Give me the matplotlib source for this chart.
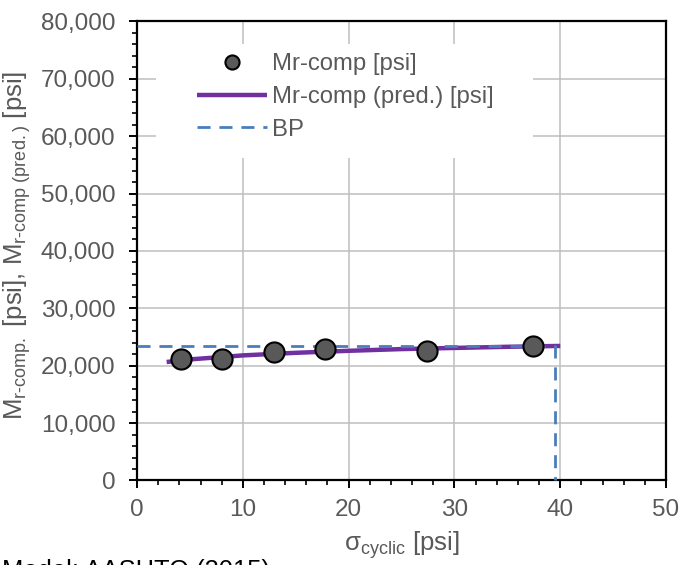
import matplotlib
matplotlib.use("Agg")
import matplotlib.pyplot as plt
from matplotlib.ticker import MultipleLocator, FuncFormatter
from matplotlib.patches import Rectangle

plt.rcParams['font.family'] = ['Liberation Sans', 'DejaVu Sans']
plt.rcParams['mathtext.fontset'] = 'custom'
plt.rcParams['mathtext.rm'] = 'Liberation Sans'
plt.rcParams['mathtext.it'] = 'Liberation Sans:italic'
plt.rcParams['mathtext.default'] = 'regular'

# data
sigma_meas = [4.15, 8.0, 12.9, 17.8, 27.4, 37.45]
mr_meas = [21200, 21150, 22400, 22850, 22550, 23500]
sigma_pred = [2.8, 5, 10, 15, 20, 25, 30, 35, 40]
mr_pred = [20650, 21100, 21800, 22250, 22600, 22900, 23100, 23300, 23450]
bp_sigma = 39.5
bp_mr = 23400

gray = '#595959'
fig = plt.figure(figsize=(6.8, 5.65), dpi=100)
ax = fig.add_axes([0.2015, 0.1496, 0.778, 0.8124])

ax.plot(sigma_pred, mr_pred, color='#7030A0', lw=3.2, solid_capstyle='butt',
        zorder=3, label='Mr-comp (pred.) [psi]')
ax.plot([0, bp_sigma, bp_sigma], [bp_mr, bp_mr, 0], color='#4A7EBB', lw=2.0,
        dashes=(4.7, 3.2), zorder=4, label='BP', clip_on=False)
ax.plot(sigma_meas, mr_meas, 'o', ms=14.5, mfc=gray, mec='black', mew=1.5,
        zorder=5, label='Mr-comp [psi]', linestyle='none')

ax.set_xlim(0, 50)
ax.set_ylim(0, 80000)
ax.xaxis.set_major_locator(MultipleLocator(10))
ax.xaxis.set_minor_locator(MultipleLocator(2))
ax.yaxis.set_major_locator(MultipleLocator(10000))
ax.yaxis.set_minor_locator(MultipleLocator(2000))
ax.yaxis.set_major_formatter(FuncFormatter(lambda v, p: f'{int(v):,}'))

ax.grid(True, which='major', color='#BFBFBF', lw=1.1, zorder=0)
ax.set_axisbelow(True)
for s in ax.spines.values():
    s.set_color('black')
    s.set_linewidth(1.6)
ax.tick_params(which='major', direction='out', length=5.5, width=1.4, color='black',
               labelsize=17.5, labelcolor=gray)
ax.tick_params(which='minor', direction='out', length=3.5, width=1.2, color='black')
ax.tick_params(axis='y', pad=10)
ax.tick_params(axis='x', pad=8)

ax.set_xlabel('σ$_{\\mathregular{cyclic}}$ [psi]', fontsize=18.5, color=gray, labelpad=6)
ax.set_ylabel('M$_{\\mathregular{r\u2010comp.}}$ [psi], M$_{\\mathregular{r\u2010comp\\ (pred.)}}$ [psi]',
              fontsize=18.5, color=gray)
ax.yaxis.set_label_coords(-0.196, 0.512)

# white legend area (covers gridlines)
ax.add_patch(Rectangle((0.036, 0.702), 0.713, 0.25, transform=ax.transAxes,
                       facecolor='white', edgecolor='none', zorder=1.5))

h, l = ax.get_legend_handles_labels()
order = [2, 0, 1]
leg = ax.legend([h[i] for i in order], [l[i] for i in order], loc='upper left',
                bbox_to_anchor=(0.113, 0.931), fontsize=17.2, frameon=False,
                handlelength=2.95, markerscale=0.7, labelspacing=0.45,
                handletextpad=0.2, borderpad=0, borderaxespad=0)
for t in leg.get_texts():
    t.set_color(gray)
leg.set_zorder(6)

fig.text(0.003, 0.011, 'Model: AASHTO (2015)', fontsize=18.4, color='black', va='top', ha='left')

fig.savefig('out.png', dpi=100)
